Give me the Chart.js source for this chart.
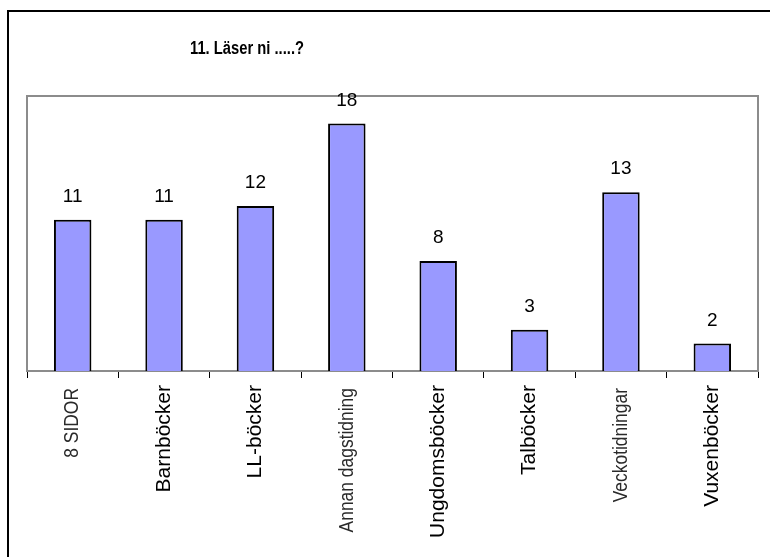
<!DOCTYPE html>
<html>
<head>
<meta charset="utf-8">
<script src="https://cdn.jsdelivr.net/npm/chart.js@4"></script>
<style>
  html, body { margin: 0; padding: 0; background: #fff; }
  #wrap { position: relative; width: 770px; height: 557px; overflow: hidden; }
  #frame { position: absolute; left: 7px; top: 10px; width: 800px; height: 600px; border: 2px solid #000; box-sizing: border-box; }
  canvas { position: absolute; left: 0; top: 0; }
</style>
</head>
<body>
<div id="wrap">
  <div id="frame"></div>
  <canvas id="chart" width="770" height="557"></canvas>
</div>
<script>
const TITLE = '11. Läser ni .....?';
const CATEGORIES = ['8 SIDOR', 'Barnböcker', 'LL-böcker', 'Annan dagstidning', 'Ungdomsböcker', 'Talböcker', 'Veckotidningar', 'Vuxenböcker'];
const VALUES = [11, 11, 12, 18, 8, 3, 13, 2];
// labels drawn in the thin condensed face
const NARROW_LABELS = ['8 SIDOR', 'Annan dagstidning', 'Veckotidningar'];

// gray frame round the plot area
const plotFrame = {
  id: 'plotFrame',
  beforeDatasetsDraw(chart) {
    const { ctx, chartArea: a } = chart;
    ctx.save();
    ctx.strokeStyle = '#8c8c8c';
    ctx.lineWidth = 2;
    ctx.strokeRect(a.left, a.top, a.right - a.left, a.bottom - a.top);
    ctx.restore();
  }
};

// values above the bars, the title and the rotated category labels
const textLayer = {
  id: 'textLayer',
  afterDraw(chart) {
    const ctx = chart.ctx;
    const meta = chart.getDatasetMeta(0);
    const xs = chart.scales.x;
    ctx.save();
    ctx.fillStyle = '#000';
    ctx.font = '19px "Liberation Sans", Arial, sans-serif';
    ctx.textAlign = 'center';
    ctx.textBaseline = 'middle';
    meta.data.forEach((bar, i) => {
      ctx.fillText(String(VALUES[i]), bar.x, bar.y - 23);
    });

    // title is a narrow bold face: squeeze Liberation Sans Bold
    ctx.save();
    ctx.translate(247, 49);
    ctx.scale(0.82, 1);
    ctx.font = 'bold 18px "Liberation Sans", Arial, sans-serif';
    ctx.fillText(TITLE, 0, 0);
    ctx.restore();

    const top = chart.chartArea.bottom + 13;
    CATEGORIES.forEach((label, i) => {
      const narrow = NARROW_LABELS.includes(label);
      ctx.save();
      ctx.translate(xs.getPixelForTick(i), narrow ? top + 4 : top + 1);
      ctx.rotate(-Math.PI / 2);
      ctx.textAlign = 'right';
      ctx.textBaseline = 'middle';
      if (narrow) {
        ctx.scale(0.83, 1);
        ctx.fillStyle = '#2a2a2a';
      } else {
        ctx.fillStyle = '#000';
      }
      ctx.font = '21px "Liberation Sans", Arial, sans-serif';
      ctx.fillText(label, 0, 0);
      ctx.restore();
    });
    ctx.restore();
  }
};

new Chart(document.getElementById('chart'), {
  type: 'bar',
  data: {
    labels: CATEGORIES,
    datasets: [{
      data: VALUES,
      backgroundColor: '#9999ff',
      borderColor: '#000',
      borderWidth: 2,
      categoryPercentage: 1,
      barPercentage: 0.41
    }]
  },
  options: {
    responsive: false,
    animation: false,
    layout: { padding: { left: 27, right: 12, top: 96, bottom: 0 } },
    plugins: {
      legend: { display: false },
      tooltip: { enabled: false },
      title: { display: false }
    },
    scales: {
      x: {
        offset: true,
        afterFit(scale) { scale.height = 186; },
        grid: {
          offset: true,
          drawOnChartArea: false,
          drawTicks: true,
          tickLength: 7,
          color: '#000',
          lineWidth: 1
        },
        border: { display: true, color: '#333', width: 2 },
        ticks: { display: false, autoSkip: false }
      },
      y: {
        display: false,
        min: 0,
        max: 20
      }
    }
  },
  plugins: [plotFrame, textLayer]
});
</script>
</body>
</html>
